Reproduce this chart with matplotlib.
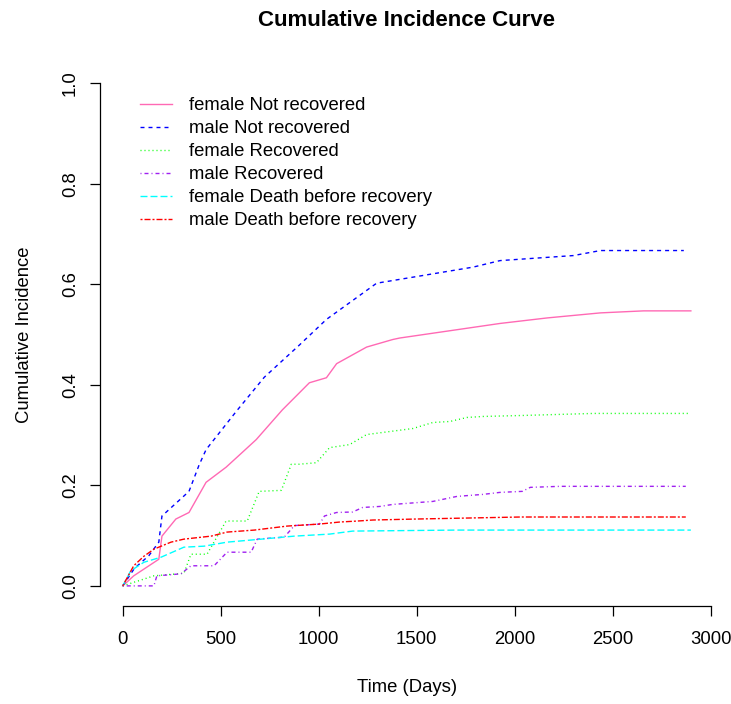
import matplotlib
matplotlib.use("Agg")
import matplotlib.pyplot as plt

plt.rcParams['font.family'] = ['Liberation Sans', 'DejaVu Sans']

# --- data ---
fnr_t = [0, 56, 184, 200, 271, 338, 425, 527, 600, 681, 814, 901, 952, 1039, 1091, 1244, 1377, 1413, 1925, 2166, 2437, 2657, 2898]
fnr_v = [0, 0.020, 0.053, 0.099, 0.133, 0.146, 0.206, 0.236, 0.262, 0.291, 0.350, 0.384, 0.404, 0.414, 0.442, 0.475, 0.490, 0.493, 0.522, 0.533, 0.543, 0.547, 0.547]

mnr_t = [0, 60, 133, 184, 200, 338, 389, 425, 579, 722, 901, 1039, 1295, 1787, 1925, 2299, 2437, 2862]
mnr_v = [0, 0.035, 0.060, 0.087, 0.139, 0.188, 0.240, 0.271, 0.347, 0.415, 0.479, 0.530, 0.602, 0.634, 0.647, 0.657, 0.667, 0.667]

fr_t = [0, 159, 312, 348, 430, 527, 635, 696, 809, 860, 901, 988, 1055, 1157, 1244, 1362, 1480, 1582, 1669, 1756, 1838, 2043, 2401, 2883]
fr_v = [0, 0.020, 0.025, 0.063, 0.063, 0.129, 0.129, 0.188, 0.190, 0.242, 0.242, 0.245, 0.275, 0.281, 0.301, 0.307, 0.313, 0.325, 0.327, 0.335, 0.337, 0.339, 0.343, 0.343]

mr_t = [0, 159, 174, 297, 348, 466, 532, 655, 686, 824, 876, 1004, 1029, 1091, 1173, 1224, 1311, 1377, 1582, 1705, 1838, 1925, 2038, 2079, 2232, 2872]
mr_v = [0, 0, 0.020, 0.024, 0.040, 0.040, 0.067, 0.067, 0.093, 0.097, 0.120, 0.123, 0.139, 0.146, 0.147, 0.156, 0.158, 0.162, 0.168, 0.178, 0.182, 0.186, 0.188, 0.196, 0.198, 0.198]

fd_t = [0, 41, 108, 195, 312, 415, 532, 707, 876, 1055, 1173, 1705, 2898]
fd_v = [0, 0.030, 0.047, 0.057, 0.077, 0.079, 0.087, 0.093, 0.099, 0.103, 0.109, 0.111, 0.111]

md_t = [0, 56, 108, 159, 246, 312, 451, 532, 671, 840, 1004, 1106, 1198, 1275, 1500, 2028, 2872]
md_v = [0, 0.040, 0.059, 0.073, 0.087, 0.093, 0.099, 0.107, 0.111, 0.119, 0.123, 0.127, 0.129, 0.131, 0.133, 0.137, 0.137]

labels = ["female Not recovered", "male Not recovered", "female Recovered",
          "male Recovered", "female Death before recovery", "male Death before recovery"]

xticks = [0, 500, 1000, 1500, 2000, 2500, 3000]
yticks = [0.0, 0.2, 0.4, 0.6, 0.8, 1.0]

# --- styles ---
s = 0.72  # R dash unit (1px) in points at 100 dpi
colors = ["#FF69B4", "#0000FF", "#00FF00", "#A020F0", "#00FFFF", "#FF0000"]
dashes = [None, (4*s, 4*s), (1*s, 3*s), (1*s, 3*s, 4*s, 3*s), (7*s, 3*s), (2*s, 2*s, 6*s, 2*s)]

fig = plt.figure(figsize=(7.31, 7.04), dpi=100)
ax = fig.add_axes([100/731, 98/704, 614/731, 543/704])

series = [(fnr_t, fnr_v), (mnr_t, mnr_v), (fr_t, fr_v), (mr_t, mr_v), (fd_t, fd_v), (md_t, md_v)]
for (t, v), c, d, lab in zip(series, colors, dashes, labels):
    ln, = ax.plot(t, v, color=c, lw=1.0, label=lab)
    if d is not None:
        ln.set_dashes(d)

ax.set_xlim(-116, 3016)
ax.set_ylim(-0.04, 1.04)
ax.set_xticks(xticks)
ax.set_xticklabels([str(x) for x in xticks])
ax.set_yticks(yticks)
ax.set_yticklabels([f"{y:.1f}" for y in yticks], rotation=90, va='center')
for sp in ['top', 'right']:
    ax.spines[sp].set_visible(False)
ax.spines['left'].set_bounds(0, 1)
ax.spines['bottom'].set_bounds(0, 3000)
ax.spines['left'].set_linewidth(0.9)
ax.spines['bottom'].set_linewidth(0.9)
ax.tick_params(axis='both', direction='out', length=7.2, width=0.9, labelsize=13.3)
ax.tick_params(axis='x', pad=11)
ax.tick_params(axis='y', pad=8)

fig.text(407/731, 1 - 20/704, "Cumulative Incidence Curve", ha='center', va='center',
         fontsize=16, fontweight='bold')
fig.text(407/731, 1 - 688/704, "Time (Days)", ha='center', va='center', fontsize=13.3)
fig.text(25/731, 1 - 335/704, "Cumulative Incidence", ha='center', va='center',
         rotation=90, fontsize=13.3)

leg = ax.legend(loc='upper left', bbox_to_anchor=(140/731, 1 - 97/704),
                bbox_transform=fig.transFigure, frameon=False, fontsize=13.3,
                handlelength=1.75, handletextpad=0.88, labelspacing=0.33,
                borderpad=0, borderaxespad=0)

fig.savefig("out.png", dpi=100)
